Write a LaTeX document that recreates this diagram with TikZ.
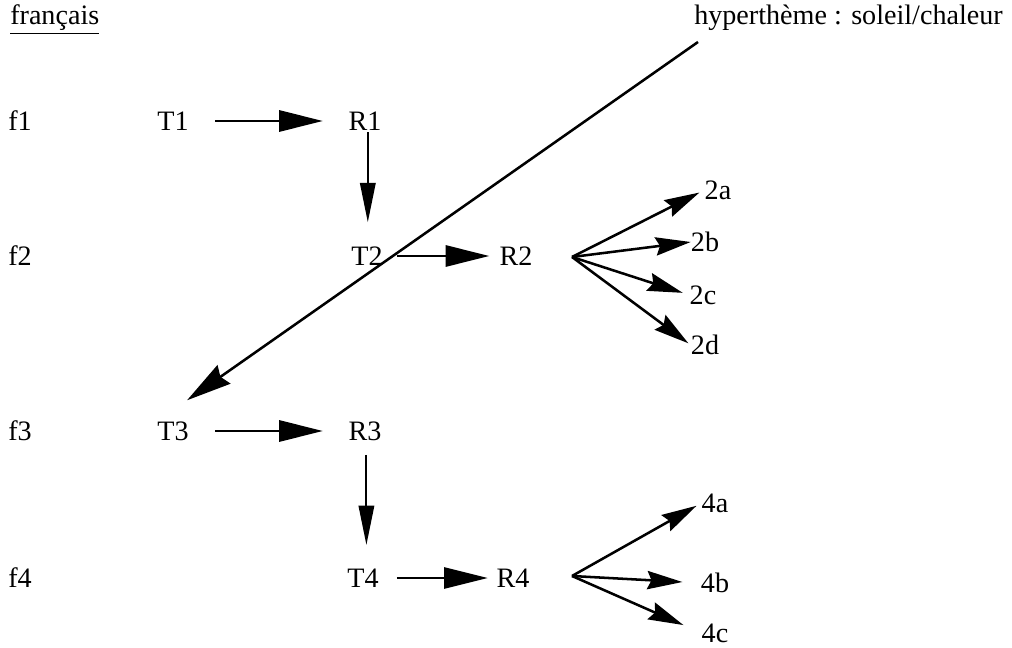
\documentclass[tikz,border=0pt]{standalone}
\usepackage{fontspec}
\setmainfont{Liberation Serif}
\usetikzlibrary{arrows.meta}

\begin{document}
\begin{tikzpicture}[x=0.025cm, y=-0.025cm,
    every node/.style={font=\fontsize{20}{24}\selectfont, inner sep=0pt},
    flow/.style={line width=1.8pt, -{Triangle[length=31pt, width=15pt]}},
    drop/.style={line width=1.4pt, -{Triangle[length=28pt, width=11pt]}},
    fan/.style={line width=1.8pt, -{Stealth[length=25pt, width=13pt, inset=3pt]}},
    cross/.style={line width=1.8pt, -{Stealth[length=32pt, width=16pt, inset=3pt]}}]
    \useasboundingbox (0,0) rectangle (1012,648);

    % Title and hypertheme
    \node[anchor=base west] (lang) at (10,25) {\underline{français}};
    \node[anchor=base west] (hyp) at (694,25) {hyperthème : soleil/chaleur};
    \coordinate (hyptail) at (698,42);

    % Row labels
    \node[anchor=west] (f1) at (8,121) {f1};
    \node[anchor=west] (f2) at (8,256) {f2};
    \node[anchor=west] (f3) at (8,431) {f3};
    \node[anchor=west] (f4) at (8,578) {f4};

    % Themes and rhemes
    \node (T1) at (173,121) {T1};
    \node (R1) at (365,121) {R1};
    \node (T2) at (367,256) {T2};
    \node (R2) at (516,256) {R2};
    \node (T3) at (173,431) {T3};
    \node (R3) at (365,431) {R3};
    \node (T4) at (363,578) {T4};
    \node (R4) at (513,578) {R4};

    % Branches
    \coordinate (fan2) at (572,257);
    \node (b2a) at (718,190) {2a};
    \node (b2b) at (705,242) {2b};
    \node (b2c) at (703,295) {2c};
    \node (b2d) at (705,345) {2d};
    \coordinate (fan4) at (572,576);
    \node (b4a) at (715,503) {4a};
    \node (b4b) at (715,583) {4b};
    \node (b4c) at (715,633) {4c};

    % Progression
    \draw[flow, shorten <=30pt, shorten >=30pt] (T1.center) -- (R1.center);
    \draw[drop, shorten <=8pt, shorten >=24pt] ([xshift=2pt]R1.center) -- ([xshift=2pt]R1.center |- T2.center);
    \draw[flow, shorten <=21pt, shorten >=19pt] (T2.center) -- (R2.center);
    \draw[cross, shorten >=26pt] (hyptail) -- (T3.north west);
    \draw[flow, shorten <=30pt, shorten >=30pt] (T3.center) -- (R3.center);
    \draw[drop, shorten <=17pt, shorten >=23.5pt] ([xshift=1pt]R3.center) -- ([xshift=1pt]R3.center |- T4.center);
    \draw[flow, shorten <=24pt, shorten >=18pt] (T4.center) -- (R4.center);

    % Split rhemes
    \draw[fan, shorten >=4pt] (fan2) -- (b2a.west);
    \draw[fan] (fan2) -- (b2b.west);
    \draw[fan, shorten >=5pt] (fan2) -- (b2c.west);
    \draw[fan, shorten >=2pt] (fan2) -- (b2d.west);
    \draw[fan, shorten >=4pt] (fan4) -- (b4a.west);
    \draw[fan, shorten >=13pt] (fan4) -- (b4b.west);
    \draw[fan, shorten >=14pt] (fan4) -- (b4c.west);
\end{tikzpicture}
\end{document}
